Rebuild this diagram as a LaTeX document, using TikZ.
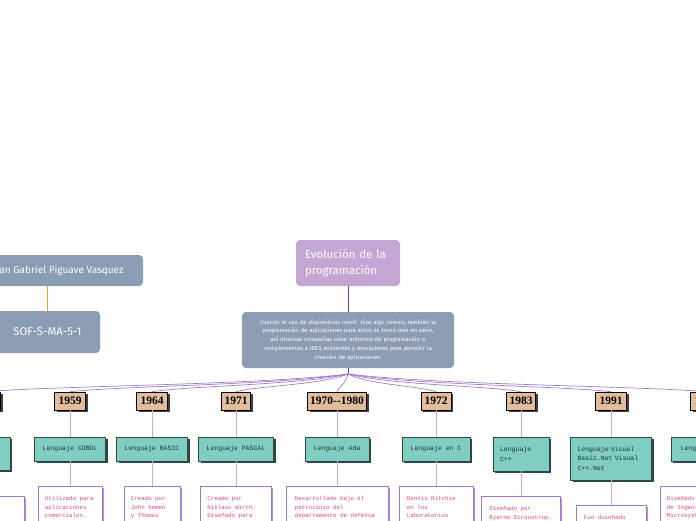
\documentclass[tikz,border=0pt]{standalone}
\usepackage{fontspec}
\setmainfont{Fira Sans}
\newfontfamily\monof{Liberation Mono}
\newfontfamily\yearf{Liberation Serif}
\usetikzlibrary{shadows}
\definecolor{titlecol}{HTML}{C3A6D3}
\definecolor{graycol}{HTML}{8B9CB4}
\definecolor{yearcol}{HTML}{E2BD9C}
\definecolor{langcol}{HTML}{7FCEC1}
\definecolor{langdark}{HTML}{2E4744}
\definecolor{langtext}{HTML}{1E3532}
\definecolor{descdraw}{HTML}{A477C9}
\definecolor{descshadow}{HTML}{B48ED6}
\definecolor{desctextcol}{HTML}{E0467A}
\definecolor{fancol}{HTML}{A27CC6}
\definecolor{stemcol}{HTML}{7A3FAA}
\definecolor{vertcol}{HTML}{C9AEDD}
\definecolor{orangecol}{HTML}{F39A2E}
\tikzset{
  titlebox/.style={rounded corners=4pt, fill=titlecol, text=white,
    font=\fontsize{11.5}{15.5}\selectfont, align=left, inner sep=0pt,
    minimum width=104pt, minimum height=46pt, text width=86pt},
  graybox/.style={rounded corners=4pt, fill=graycol, text=white, inner sep=0pt, align=center},
  yearbox/.style={fill=yearcol, draw=black, line width=0.6pt,
    general shadow={shadow xshift=2pt, shadow yshift=-2pt, fill=black!75},
    font=\yearf\bfseries\fontsize{11.5}{12}\selectfont, inner sep=0pt, minimum height=18pt},
  langbox/.style={fill=langcol, draw=langdark, line width=0.6pt,
    general shadow={shadow xshift=2pt, shadow yshift=-2pt, fill=langdark},
    font=\monof\fontsize{6.5}{9.8}\selectfont, text=langtext, inner sep=0pt},
  descbox/.style={fill=white, draw=descdraw, line width=0.7pt,
    general shadow={shadow xshift=1.6pt, shadow yshift=-1.6pt, fill=descshadow},
    inner sep=0pt, anchor=north, minimum height=80pt},
  desctext/.style={font=\monof\fontsize{5.8}{8.6}\selectfont, text=desctextcol,
    align=left, anchor=north west, inner sep=0pt},
  fan/.style={draw=fancol, line width=0.7pt},
  stem/.style={draw=stemcol, line width=0.9pt},
  vert/.style={draw=vertcol, line width=0.8pt},
}
\begin{document}
\begin{tikzpicture}[x=1pt,y=-1pt]
\useasboundingbox (0,0) rectangle (696,520);
\clip (0,0) rectangle (696,520);

% central nodes
\node[titlebox] (title) at (348,263) {Evolución de la\\programación};
\node[graybox, minimum width=212pt, minimum height=56pt, text width=206pt,
  font=\fontsize{5.8}{8.8}\selectfont] (intro) at (348,340)
  {Cuando el uso de dispositivos móvil\ \ hizo algo común, también la\\
   programación de aplicaciones para estos se tornó más en serio,\\
   así diversas compañías crear entornos de programación o\\
   complementos a IDES existentes y emuladores para permitir la\\
   creación de aplicaciones.};
\coordinate (hub) at (348,374);
\draw[stem] (title.south) -- (intro.north);
\draw[stem] (intro.south) -- (hub);

% author nodes
\node[graybox, minimum width=172pt, minimum height=31pt, font=\fontsize{10}{11}\selectfont]
  (name) at (57,270.5) {Juan Gabriel Piguave Vasquez};
\node[graybox, minimum width=105pt, minimum height=42pt, font=\fontsize{11.3}{12}\selectfont]
  (sof) at (47.5,332) {SOF-S-MA-5-1};
\draw[draw=orangecol, line width=1.2pt] (sof.north) -- (sof.north |- name.south);

% years
\node[yearbox, minimum width=31pt] (y0) at (-15,401) {};
\node[yearbox, minimum width=31pt] (y1) at (70,401) {1959};
\node[yearbox, minimum width=31pt] (y2) at (152,401) {1964};
\node[yearbox, minimum width=29pt] (y3) at (236,401) {1971};
\node[yearbox, minimum width=59pt] (y4) at (337,401) {1970--1980};
\node[yearbox, minimum width=30pt] (y5) at (436,401) {1972};
\node[yearbox, minimum width=29pt] (y6) at (521,401) {1983};
\node[yearbox, minimum width=31pt] (y7) at (611,401) {1991};
\node[yearbox, minimum width=31pt] (y8) at (706,401) {1995};

% fan connectors
\foreach \n/\xx in {y0/-15, y1/70, y2/152, y3/236, y4/337, y5/436, y6/521, y7/611, y8/706}{
  \pgfmathsetmacro\ax{0.25*(\xx-348)}
  \pgfmathsetmacro\bx{-0.2*(\xx-348)}
  \draw[fan] (hub) .. controls +(\ax,11) and +(\bx,-6) .. (\n.north);
}

% languages
\node[langbox, minimum width=70pt, minimum height=33pt] (l0) at (-25,453.5) {};
\node[langbox, minimum width=71pt, minimum height=24pt] (l1) at (70,449) {Lenguaje COBOL};
\node[langbox, minimum width=71pt, minimum height=24pt] (l2) at (152,449) {Lenguaje BASIC};
\node[langbox, minimum width=75pt, minimum height=24pt] (l3) at (236,449) {Lenguaje PASCAL};
\node[langbox, minimum width=64pt, minimum height=24pt] (l4) at (337,449) {Lenguaje Ada};
\node[langbox, minimum width=68pt, minimum height=24pt] (l5) at (436,449) {Lenguaje en C};
\node[langbox, minimum width=56pt, minimum height=34pt, text width=42pt, align=left] (l6) at (521,454) {Lenguaje\\C++};
\node[langbox, minimum width=81pt, minimum height=43pt, text width=67pt, align=left] (l7) at (611,458.5) {Lenguaje Visual\\Basic.Net Visual\\C++.Net};
\node[langbox, minimum width=70pt, minimum height=24pt] (l8) at (706,449) {Lenguaje Java};

% descriptions
\node[descbox, minimum width=84pt] (d0) at (-18,496) {};
\node[descbox, minimum width=64pt] (d1) at (70,486) {};
\node[descbox, minimum width=56pt] (d2) at (152,486) {};
\node[descbox, minimum width=71pt] (d3) at (236,486) {};
\node[descbox, minimum width=102pt] (d4) at (337,486) {};
\node[descbox, minimum width=74pt] (d5) at (436,486) {};
\node[descbox, minimum width=79pt] (d6) at (521,496) {};
\node[descbox, minimum width=70pt] (d7) at (611,505) {};
\node[descbox, minimum width=92pt] (d8) at (706,486) {};

\node[desctext] (t1) at ([shift={(7,10)}]d1.north west) {Utilizado para\\aplicaciones\\comerciales.};
\node[desctext] (t2) at ([shift={(7,10)}]d2.north west) {Creado por\\John Kemen\\y Thomas};
\node[desctext] (t3) at ([shift={(7,10)}]d3.north west) {Creado por\\Niklaus Wirth.\\Diseñado para};
\node[desctext] (t4) at ([shift={(9,10)}]d4.north west) {Desarrollado bajo el\\patrocinio del\\departamento de defensa};
\node[desctext] (t5) at ([shift={(8,10)}]d5.north west) {Dennis Ritchie\\en los\\Laboratorios};
\node[desctext] (t6) at ([shift={(8,10)}]d6.north west) {Diseñado por\\Bjarne Stroustrup.};
\node[desctext] (t7) at ([shift={(8,10)}]d7.north west) {Fue diseñado};
\node[desctext] (t8) at ([shift={(7,10)}]d8.north west) {Diseñado por\\de Ingenieros\\Microsystems};

% vertical connectors
\foreach \i in {0,...,8}{
  \draw[vert] (y\i.south) -- (l\i.north);
  \draw[vert] (l\i.south) -- (d\i.north);
}
\end{tikzpicture}
\end{document}
